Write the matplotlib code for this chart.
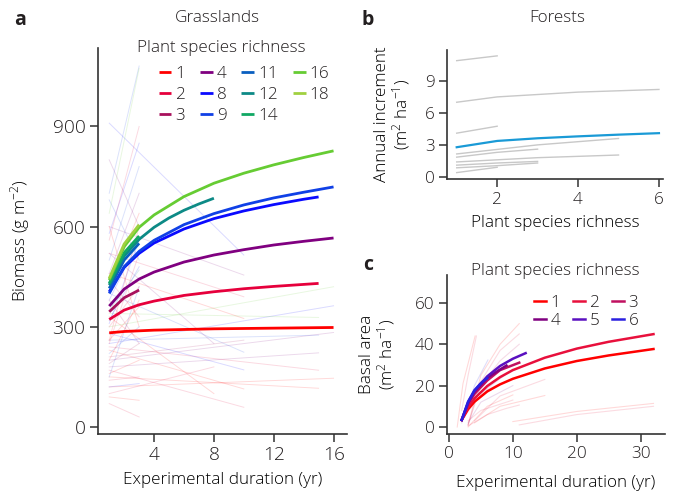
import matplotlib.pyplot as plt

# ---- panel a: grasslands ----
rich_a = [1, 2, 3, 4, 8, 9, 11, 12, 14, 16, 18]
col_a = ['#ff0000', '#e6003c', '#a8105c', '#800080', '#0a0aff', '#1040e6',
         '#0a5fc0', '#0d8a86', '#10a864', '#66cc33', '#a0d040']
yrs_a = [
    [1, 2, 3, 4, 6, 8, 10, 12, 14, 16],
    [1, 2, 3, 4, 6, 8, 10, 12, 14, 15],
    [1, 2, 3],
    [1, 2, 3, 4, 6, 8, 10, 12, 14, 16],
    [1, 2, 3, 4, 6, 8, 10, 12, 14, 15],
    [1, 2, 3, 4, 6, 8, 10, 12, 14, 16],
    [1, 2, 3],
    [1, 2, 3, 4, 5, 6, 7, 8],
    [1, 2, 3],
    [1, 2, 3, 4, 6, 8, 10, 12, 14, 16],
    [1, 2, 3],
]
bio_a = [
    [282, 286, 288, 290, 292, 294, 295, 296, 297, 298],
    [322, 350, 366, 377, 394, 405, 414, 421, 427, 430],
    [345, 387, 410],
    [362, 413, 443, 464, 494, 515, 531, 545, 556, 566],
    [405, 478, 520, 551, 593, 624, 647, 666, 682, 689],
    [400, 480, 526, 559, 606, 639, 665, 686, 703, 719],
    [415, 500, 550],
    [425, 512, 562, 598, 626, 649, 668, 685],
    [430, 522, 572],
    [440, 540, 598, 635, 690, 730, 760, 785, 807, 827],
    [445, 548, 606],
]
# faint site-level lines: start year, start value, end year, end value, richness index
fa_x0 = [1] * 50
fa_y0 = [250, 300, 200, 120, 340, 260, 180, 240, 150, 910, 600, 520, 460, 400,
         280, 230, 170, 210, 520, 330, 100, 700, 640, 580, 560, 500, 460, 420,
         380, 350, 300, 260, 220, 190, 160, 140, 120, 90, 70, 800, 680, 260,
         440, 320, 200, 380, 150, 250, 600, 310]
fa_x1 = [16, 16, 16, 16, 15, 15, 15, 15, 15, 10, 10, 10, 10, 10, 10, 10, 10,
         10, 8, 8, 8, 3, 3, 3, 3, 3, 3, 3, 3, 3, 3, 3, 3, 3, 3, 3, 3, 3, 3,
         3, 3, 3, 3, 3, 3, 3, 3, 3, 3, 3]
fa_y1 = [363, 420, 283, 146, 328, 275, 222, 170, 116, 515, 455, 390, 325, 224,
         171, 114, 59, 260, 250, 100, 180, 1081, 1074, 850, 900, 780, 700, 640,
         560, 470, 420, 360, 300, 250, 200, 150, 130, 80, 30, 600, 500, 600,
         330, 480, 380, 250, 420, 520, 300, 560]
fa_k = [4, 9, 3, 0, 9, 5, 3, 1, 0, 4, 3, 1, 0, 5, 4, 0, 1, 2, 3, 0, 1,
        5, 9, 4, 1, 5, 3, 0, 4, 7, 1, 0, 5, 2, 0, 1, 4, 0, 1, 3, 5, 0,
        1, 4, 0, 2, 5, 1, 0, 4]

# ---- panel b: forests ----
rich_b = [[1, 2], [1, 2, 4, 6], [1, 2], [1, 3, 5], [1, 2, 3], [1, 3, 5],
          [1, 2, 3], [1, 2, 3], [1, 2]]
inc_b = [[10.9, 11.35], [7.0, 7.5, 7.95, 8.2], [4.1, 4.75], [2.15, 3.0, 3.6],
         [1.85, 2.3, 2.6], [1.4, 1.8, 2.05], [1.1, 1.3, 1.45], [0.85, 1.05, 1.3],
         [0.4, 0.9]]
mean_rich_b = [1, 2, 3, 4, 5, 6]
mean_inc_b = [2.78, 3.37, 3.62, 3.8, 3.96, 4.1]

# ---- panel c: forest basal area ----
rich_c = [1, 2, 3, 4, 5, 6]
col_c = ['#ff0000', '#e8103c', '#c01060', '#800080', '#5a10c0', '#2a20e0']
yrs_c = [
    [2, 3, 4, 6, 8, 10, 15, 20, 25, 32],
    [2, 3, 4, 6, 8, 10, 15, 20, 25, 32],
    [2, 3, 4, 6, 8, 11],
    [2, 3, 4, 6, 8, 9],
    [2, 3, 4, 6, 8, 10, 12],
    [2, 3, 4, 5, 6],
]
ba_c = [
    [3.4, 8.6, 12.2, 17.2, 20.6, 23.3, 28.3, 31.9, 34.6, 37.7],
    [3.4, 9.5, 13.8, 19.8, 24.1, 27.5, 33.5, 37.9, 41.2, 44.9],
    [3.4, 11.0, 16.0, 22.5, 27.5, 31.1],
    [3.4, 11.5, 17.0, 23.8, 27.8, 29.7],
    [3.4, 12.0, 17.5, 24.5, 29.5, 33.0, 35.7],
    [3.4, 12.3, 17.8, 21.2, 23.6],
]
fc_x = [[1.3, 2.2, 4.1], [2, 3, 4.3], [3, 5, 8, 11], [3, 5, 8, 11],
        [3, 5, 8, 11], [3, 6, 9, 11], [3, 6, 10], [4, 8, 15], [4, 8, 15],
        [10, 20, 32], [11, 20, 32], [2, 4, 6, 8], [2.5, 4, 6.1],
        [3, 5, 10], [2, 4, 10], [3, 5, 8, 10], [2, 3, 5, 7]]
fc_y = [[0, 21, 44], [8, 25, 44], [1, 25, 40, 50], [1, 22, 37, 45],
        [1, 20, 32, 40], [0.5, 6, 9, 10.6], [0, 10, 15.5], [2, 10, 15.2],
        [3, 15, 23], [2.6, 7.5, 11.4], [1, 6, 10], [3, 12, 18, 21],
        [5, 20, 32.4], [2, 12, 20], [3, 14, 28], [3, 8, 11, 13], [2, 10, 20, 27]]
fc_k = [0, 1, 0, 1, 2, 1, 0, 0, 1, 0, 1, 2, 5, 3, 4, 1, 4]

plt.rcParams['font.family'] = ['Open Sans', 'DejaVu Sans']
plt.rcParams['font.weight'] = 'light'
plt.rcParams['axes.labelweight'] = 'light'
plt.rcParams['mathtext.fontset'] = 'custom'
plt.rcParams['mathtext.rm'] = 'Open Sans:light'
plt.rcParams['mathtext.default'] = 'regular'
plt.rcParams['font.size'] = 12.3
plt.rcParams['axes.linewidth'] = 1.2
plt.rcParams['axes.edgecolor'] = '#333333'
plt.rcParams['xtick.major.size'] = 6
plt.rcParams['ytick.major.size'] = 6
plt.rcParams['xtick.major.width'] = 1.1
plt.rcParams['ytick.major.width'] = 1.1
plt.rcParams['text.color'] = '#231f20'
plt.rcParams['xtick.color'] = '#333333'
plt.rcParams['ytick.color'] = '#333333'
plt.rcParams['xtick.labelcolor'] = '#231f20'
plt.rcParams['ytick.labelcolor'] = '#231f20'

W, H = 676, 495
fig = plt.figure(figsize=(W / 100, H / 100), dpi=100)


def box(l, t, r, b):
    return [l / W, 1 - b / H, (r - l) / W, (b - t) / H]


ax_a = fig.add_axes(box(98, 48, 347, 434))
ax_b = fig.add_axes(box(447, 50, 663, 179))
ax_c = fig.add_axes(box(447, 275, 665, 434))
for ax in (ax_a, ax_b, ax_c):
    ax.spines['top'].set_visible(False)
    ax.spines['right'].set_visible(False)
    ax.tick_params(pad=3)
ax_a.tick_params(labelsize=13.8)
leg_font = {'weight': 'light', 'size': 12.3}

# panel a
for i in range(len(fa_x0)):
    ax_a.plot([fa_x0[i], fa_x1[i]], [fa_y0[i], fa_y1[i]],
              color=col_a[fa_k[i]], lw=0.7, alpha=0.15, zorder=1)
handles = []
for i, r in enumerate(rich_a):
    h, = ax_a.plot(yrs_a[i], bio_a[i], color=col_a[i], lw=2.0,
                   solid_capstyle='butt', label=str(r), zorder=3)
    handles.append(h)
ax_a.set_xlim(0.25, 16.9)
ax_a.set_ylim(-21, 1135)
ax_a.set_xticks([4, 8, 12, 16])
ax_a.set_yticks([0, 300, 600, 900])
ax_a.set_xlabel('Experimental duration (yr)')
ax_a.set_ylabel('Biomass (g m$^{-2}$)')
ax_a.xaxis.set_label_coords(0.5, -0.098)
ax_a.yaxis.set_label_coords(-0.265, 0.5)
ax_a.legend(handles=handles, ncol=4, loc='upper center',
            bbox_to_anchor=(244 / W, 1 - 57 / H),
            bbox_transform=fig.transFigure, frameon=False, prop=leg_font,
            handlelength=0.75, handletextpad=0.25, columnspacing=0.85,
            labelspacing=0.32, borderpad=0)
fig.text(221 / W, 1 - 48 / H, 'Plant species richness', ha='center',
         va='center')

# panel b
for i in range(len(rich_b)):
    ax_b.plot(rich_b[i], inc_b[i], color='#c8c8c8', lw=1.0, zorder=1)
ax_b.plot(mean_rich_b, mean_inc_b, color='#1a9ad6', lw=1.6, zorder=3)
ax_b.set_xlim(0.76, 6.1)
ax_b.set_ylim(-0.2, 11.9)
ax_b.set_xticks([2, 4, 6])
ax_b.set_yticks([0, 3, 6, 9])
ax_b.set_xlabel('Plant species richness')
ax_b.set_ylabel('Annual increment\n(m$^2$ ha$^{-1}$)', linespacing=1.0)
ax_b.xaxis.set_label_coords(0.5, -0.28)
ax_b.yaxis.set_label_coords(-0.162, 0.5)

# panel c
for i in range(len(fc_x)):
    ax_c.plot(fc_x[i], fc_y[i], color=col_c[fc_k[i]], lw=0.8, alpha=0.15,
              zorder=1)
hc = []
for i, r in enumerate(rich_c):
    h, = ax_c.plot(yrs_c[i], ba_c[i], color=col_c[i], lw=1.8, label=str(r),
                   zorder=3)
    hc.append(h)
order = [0, 3, 1, 4, 2, 5]
ax_c.legend(handles=[hc[j] for j in order], ncol=3, loc='upper center',
            bbox_to_anchor=(586 / W, 1 - 286 / H),
            bbox_transform=fig.transFigure, frameon=False, prop=leg_font,
            handlelength=0.75, handletextpad=0.25, columnspacing=0.7,
            labelspacing=0.15, borderpad=0)
fig.text(555 / W, 1 - 271 / H, 'Plant species richness', ha='center',
         va='center')
ax_c.set_xlim(-0.3, 33.8)
ax_c.set_ylim(-3.4, 73.5)
ax_c.set_xticks([0, 10, 20, 30])
ax_c.set_yticks([0, 20, 40, 60])
ax_c.set_xlabel('Experimental duration (yr)')
ax_c.set_ylabel('Basal area\n(m$^2$ ha$^{-1}$)', linespacing=1.0)
ax_c.xaxis.set_label_coords(0.5, -0.258)
ax_c.yaxis.set_label_coords(-0.229, 0.5)

fig.text(217 / W, 1 - 18 / H, 'Grasslands', ha='center', va='center')
fig.text(557 / W, 1 - 18 / H, 'Forests', ha='center', va='center')
for lab, x, y in (('a', 20, 20), ('b', 368, 20), ('c', 368, 265)):
    fig.text(x / W, 1 - y / H, lab, ha='center', va='center',
             fontweight='bold', fontsize=14)

fig.savefig('out.png', dpi=100)
